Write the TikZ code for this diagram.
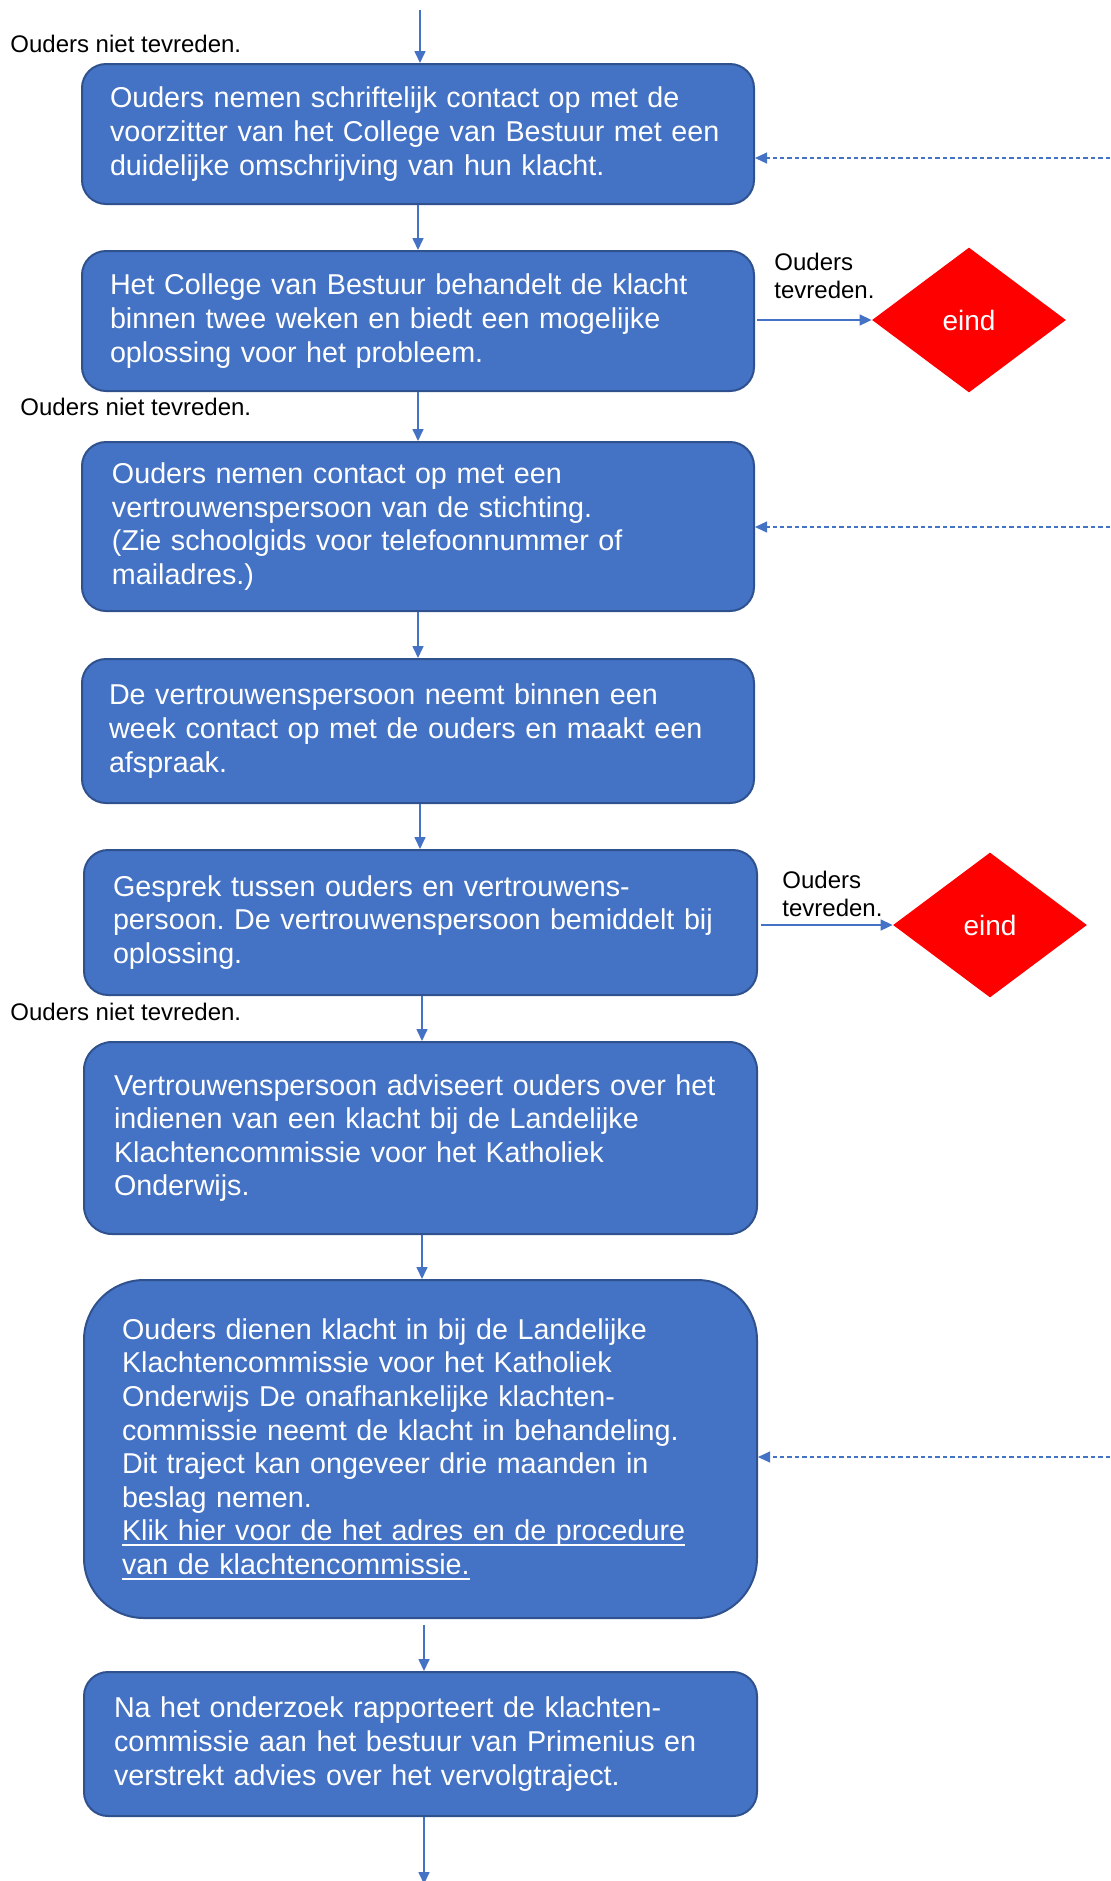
\documentclass[tikz,border=0pt]{standalone}
\usepackage{fontspec}
\setmainfont{Liberation Sans}
\usepackage{tikz}
\usetikzlibrary{arrows.meta,shapes.geometric}
\definecolor{stapblauw}{HTML}{4472C4}
\definecolor{randblauw}{HTML}{2F528F}
\frenchspacing
\newcommand{\onderlijn}[1]{\leavevmode\setbox0\hbox{#1}\rlap{\raisebox{-2.6pt}{\rule{\wd0}{0.8pt}}}\box0}
\tikzset{
	stap/.style={draw=randblauw, line width=1pt, fill=stapblauw, text=white, rounded corners=12pt,
		minimum width=336pt, text width=308pt, inner xsep=14pt, align=left,
		font=\fontsize{14.35}{16.8}\selectfont},
	eind/.style={diamond, fill=red, text=white, minimum width=97pt, minimum height=72.5pt,
		aspect=1.34, inner sep=0pt, font=\fontsize{14}{16}\selectfont},
	pijl/.style={draw=stapblauw, line width=0.8pt, -{Triangle[length=6pt,width=5.5pt]}},
	terug/.style={draw=stapblauw, line width=0.6pt, dash pattern=on 2.2pt off 1.5pt, -{Triangle[length=6pt,width=5.5pt]}},
	oordeel/.style={font=\fontsize{12}{13.8}\selectfont, inner sep=0pt, align=left}
}

\begin{document}
\begin{tikzpicture}[x=0.5pt, y=-0.5pt]
		%%%%% START %%%%%
		\useasboundingbox (0, 0) rectangle (1110, 1881);
		
		\node[stap, minimum height=70pt] (b1) at (418, 134) {Ouders nemen schriftelijk contact op met de\\voorzitter van het College van Bestuur met een\\duidelijke omschrijving van hun klacht.};
		\node[stap, minimum height=70pt] (b2) at (418, 321) {Het College van Bestuur behandelt de klacht\\binnen twee weken en biedt een mogelijke\\oplossing voor het probleem.};
		\node[stap, minimum height=84.5pt, inner xsep=15pt, text width=306pt] (b3) at (418, 526.5) {Ouders nemen contact op met een\\vertrouwenspersoon van de stichting.\\(Zie schoolgids voor telefoonnummer of\\mailadres.)};
		\node[stap, minimum height=72pt, inner xsep=13.5pt, text width=309pt] (b4) at (418, 731) {De vertrouwenspersoon neemt binnen een\\week contact op met de ouders en maakt een\\afspraak.};
		\node[stap, minimum height=72.5pt, inner xsep=14.5pt, text width=307.5pt] (b5) at (420.5, 922.5) {Gesprek tussen ouders en vertrouwens-\\persoon. De vertrouwenspersoon bemiddelt bij\\oplossing.};
		\node[stap, minimum height=96pt, inner xsep=15pt, text width=306.5pt, rounded corners=14pt] (b6) at (420.5, 1138) {Vertrouwenspersoon adviseert ouders over het\\indienen van een klacht bij de Landelijke\\Klachtencommissie voor het Katholiek\\Onderwijs.};
		\node[stap, minimum height=169pt, inner xsep=19pt, text width=298.5pt, rounded corners=30pt] (b7) at (420.5, 1449) {Ouders dienen klacht in bij de Landelijke\\Klachtencommissie voor het Katholiek\\Onderwijs De onafhankelijke klachten-\\commissie neemt de klacht in behandeling.\\Dit traject kan ongeveer drie maanden in\\beslag nemen.\\\onderlijn{Klik hier voor de het adres en de procedure}\\\onderlijn{van de klachtencommissie.}};
		\node[stap, minimum height=72pt, inner xsep=15pt, text width=306.5pt] (b8) at (420.5, 1744) {Na het onderzoek rapporteert de klachten-\\commissie aan het bestuur van Primenius en\\verstrekt advies over het vervolgtraject.};
		
		\node[eind] (eind1) at (969, 320) {eind};
		\node[eind] (eind2) at (990, 925) {eind};
		
		% labels
		\node[oordeel, anchor=west] (niet1) at (10, 44) {Ouders niet tevreden.};
		\node[oordeel, anchor=west] (niet2) at (20, 407) {Ouders niet tevreden.};
		\node[oordeel, anchor=west] (niet3) at (10, 1012) {Ouders niet tevreden.};
		\node[oordeel, anchor=west] (wel1) at (774, 276) {Ouders\\tevreden.};
		\node[oordeel, anchor=west] (wel2) at (782, 894) {Ouders\\tevreden.};
		
		% pijlen
		\coordinate (begin) at (420, 10);
		\coordinate (einde) at (424, 1884);
		\coordinate (lus1) at (1110, 158);
		\coordinate (lus3) at (1110, 527);
		\coordinate (lus7) at (1110, 1457);
		
		\draw[pijl] (begin) -- (begin |- b1.north);
		\draw[pijl] (b1.south) -- (b2.north);
		\draw[pijl] (b2.south) -- (b3.north);
		\draw[pijl] (b3.south) -- (b4.north);
		\draw[pijl] ([xshift=1pt]b4.south) -- ([xshift=1pt]b4.south |- b5.north);
		\draw[pijl] ([xshift=0.75pt]b5.south) -- ([xshift=0.75pt]b6.north);
		\draw[pijl] ([xshift=0.75pt]b6.south) -- ([xshift=0.75pt]b7.north);
		\draw[pijl] ([xshift=1.75pt, yshift=-3pt]b7.south) -- ([xshift=1.75pt]b8.north);
		\draw[pijl] ([xshift=1.75pt]b8.south) -- (einde);
		
		\draw[pijl] ([xshift=1pt]b2.east |- eind1) -- (eind1.west);
		\draw[pijl] ([xshift=1.5pt]b5.east |- eind2) -- (eind2.west);
		
		\draw[terug] (lus1) -- (lus1 -| b1.east);
		\draw[terug] (lus3) -- (lus3 -| b3.east);
		\draw[terug] (lus7) -- (lus7 -| b7.east);
		%%%%% END %%%%%
	\end{tikzpicture}
\end{document}
